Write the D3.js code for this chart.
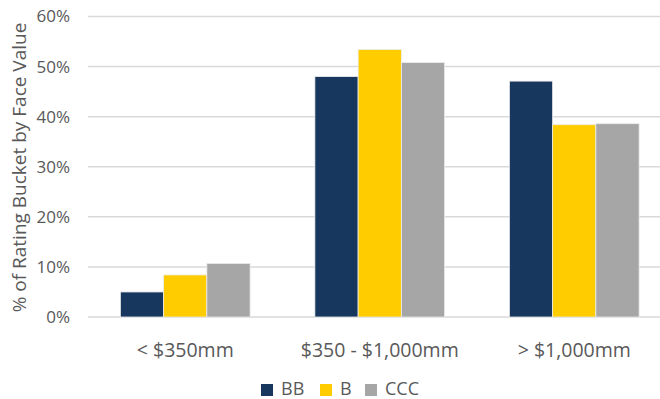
<!DOCTYPE html>
<html><head><meta charset="utf-8">
<script src="https://cdn.jsdelivr.net/npm/d3@7"></script>
<style>body{margin:0;background:#fff;} svg{display:block;}</style>
</head><body>
<svg id="c" width="660" height="399"></svg>
<script>
const categories = ["< $350mm", "$350 - $1,000mm", "> $1,000mm"];
const seriesNames = ["BB", "B", "CCC"];
const BB = [5.0, 48.0, 47.1];
const B = [8.4, 53.4, 38.4];
const CCC = [10.7, 50.8, 38.6];
const yTicks = [0, 10, 20, 30, 40, 50, 60];
const colors = ["#17375e", "#ffcc00", "#a6a6a6"];

const values = [BB, B, CCC];
const svg = d3.select("#c");
const font = "'Open Sans', sans-serif";
const pLeft = 88, pRight = 671.5, pTop = 16.5, pBottom = 317;

const x = d3.scaleBand().domain(categories).range([pLeft, pRight]).paddingInner(0.333).paddingOuter(0.1665);
const xs = d3.scaleBand().domain(seriesNames).range([0, x.bandwidth()]);
const y = d3.scaleLinear().domain([0, 60]).range([pBottom, pTop]);

// gridlines
svg.append("g").selectAll("line").data(yTicks).join("line")
  .attr("x1", pLeft).attr("x2", 660)
  .attr("y1", d => y(d)).attr("y2", d => y(d))
  .attr("stroke", "#d9d9d9").attr("stroke-width", 1.5);

// y axis labels
const yAxis = d3.axisLeft(y).tickValues(yTicks).tickFormat(d => d + "%").tickSize(0).tickPadding(18);
const ya = svg.append("g").attr("transform", `translate(${pLeft},0)`).call(yAxis);
ya.select(".domain").remove();
ya.selectAll("text").attr("font-family", font).attr("font-size", 17).attr("fill", "#595959");

// bars
seriesNames.forEach((s, si) => {
  svg.append("g").selectAll("rect").data(categories).join("rect")
    .attr("x", c => x(c) + xs(s))
    .attr("y", (c, i) => y(values[si][i]))
    .attr("width", xs.bandwidth())
    .attr("height", (c, i) => y(0) - y(values[si][i]))
    .attr("fill", colors[si])
    .attr("stroke", "#ececec").attr("stroke-width", 0.8);
});

// x axis labels
const xAxis = d3.axisBottom(x).tickSize(0);
const xa = svg.append("g").attr("transform", `translate(0,${pBottom})`).call(xAxis);
xa.select(".domain").remove();
xa.selectAll("text").attr("y", 40).attr("dy", null)
  .attr("font-family", font).attr("font-size", 19.5).attr("fill", "#595959");

// y title
svg.append("text").attr("transform", "translate(26,167.5) rotate(-90)")
  .attr("text-anchor", "middle").attr("font-family", font).attr("font-size", 19).attr("fill", "#595959")
  .text("% of Rating Bucket by Face Value");

// legend
const legX = [261, 320, 365];
const lg = svg.append("g");
seriesNames.forEach((s, i) => {
  lg.append("rect").attr("x", legX[i]).attr("y", 384).attr("width", 12).attr("height", 12).attr("fill", colors[i]);
  lg.append("text").attr("x", legX[i] + 20).attr("y", 394.5).attr("font-family", font).attr("font-size", 18)
    .attr("fill", "#595959").text(s);
});
</script>
</body></html>
